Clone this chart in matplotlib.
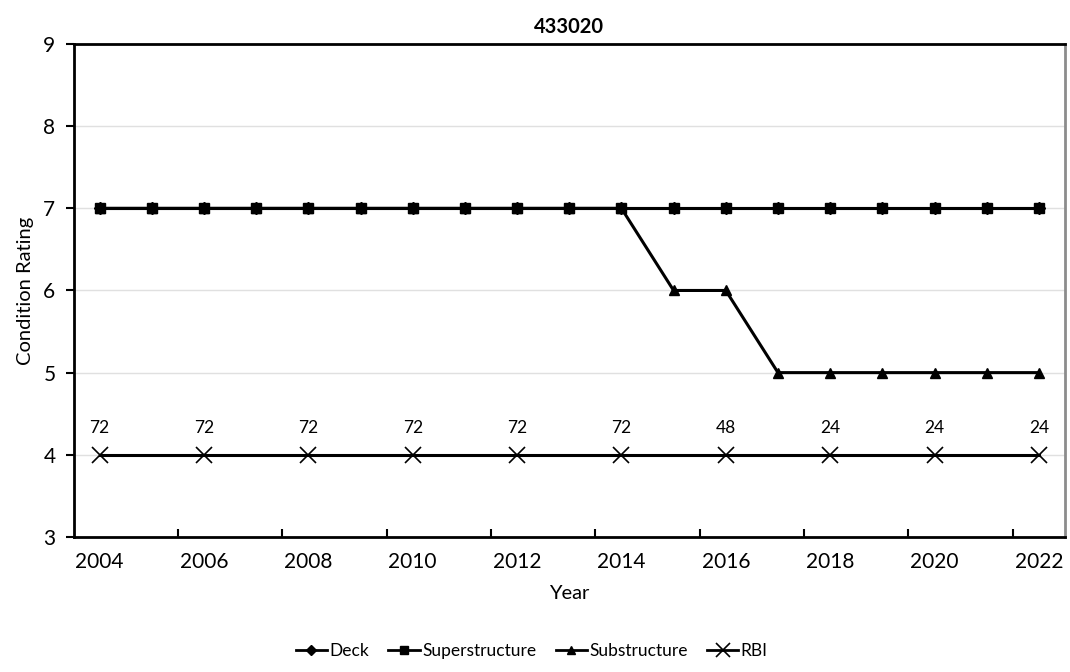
import matplotlib
matplotlib.use("Agg")
import matplotlib.pyplot as plt
from matplotlib.lines import Line2D

plt.rcParams["font.family"] = ["Lato", "DejaVu Sans"]

years = list(range(2004, 2023))
deck = [7] * 19
superstructure = [7] * 19
substructure = [7, 7, 7, 7, 7, 7, 7, 7, 7, 7, 7, 6, 6, 5, 5, 5, 5, 5, 5]
rbi_years = [2004, 2006, 2008, 2010, 2012, 2014, 2016, 2018, 2020, 2022]
rbi = [4] * 10
rbi_labels = [72, 72, 72, 72, 72, 72, 48, 24, 24, 24]

fig = plt.figure(figsize=(10.7, 6.72), dpi=100)
ax = fig.add_axes([0.0687, 0.201, 0.9266, 0.7335])

# category-style x positions
xpos = list(range(len(years)))
rbi_x = [years.index(y) for y in rbi_years]

ax.plot(xpos, deck, color="black", lw=2.2, marker="D", ms=6, label="Deck", zorder=3)
ax.plot(xpos, superstructure, color="black", lw=2.2, marker="s", ms=6.5,
        label="Superstructure", zorder=4)
ax.plot(xpos, substructure, color="black", lw=2.2, marker="^", ms=7,
        label="Substructure", zorder=3)
ax.plot(rbi_x, rbi, color="black", lw=2.2, marker="x", ms=12, mew=1.2,
        label="RBI", zorder=5)
for x, v, t in zip(rbi_x, rbi, rbi_labels):
    ax.text(x, v + 0.33, str(t), ha="center", va="center", fontsize=12.5)

ax.set_xlim(-0.5, len(years) - 0.5)
ax.set_ylim(3, 9)
ax.set_yticks(range(3, 10))
ax.set_xticks(xpos[::2])
ax.set_xticklabels([str(y) for y in years[::2]])
ax.set_xticks([i + 1.5 for i in range(0, 17, 2)], minor=True)
ax.tick_params(axis="x", which="major", length=0, labelsize=15, pad=11)
ax.tick_params(axis="x", which="minor", direction="in", length=6, width=1.5)
ax.tick_params(axis="y", direction="out", length=6, width=1.5, labelsize=15, pad=7)
ax.grid(axis="y", color="#e0e0e0", lw=1)
ax.set_axisbelow(True)

for s in ["left", "bottom", "top"]:
    ax.spines[s].set_color("black")
    ax.spines[s].set_linewidth(2)
ax.spines["right"].set_color("#8c8c8c")
ax.spines["right"].set_linewidth(2)

ax.set_title("433020", fontsize=14.5, fontweight="bold", pad=8)
ax.set_xlabel("Year", fontsize=14.5, labelpad=9)
ax.set_ylabel("Condition Rating", fontsize=14.5, labelpad=7)

handles = [
    Line2D([], [], color="black", lw=2, marker="D", ms=5),
    Line2D([], [], color="black", lw=2, marker="s", ms=5.5),
    Line2D([], [], color="black", lw=2, marker="^", ms=6),
    Line2D([], [], color="black", lw=2, marker="x", ms=10, mew=1.2),
]
fig.legend(handles, ["Deck", "Superstructure", "Substructure", "RBI"],
           loc="center", bbox_to_anchor=(0.497, 0.031), ncol=4, frameon=False,
           fontsize=12.5, handlelength=1.8, handletextpad=0.15, columnspacing=1.1)

fig.savefig("out.png", dpi=100)
